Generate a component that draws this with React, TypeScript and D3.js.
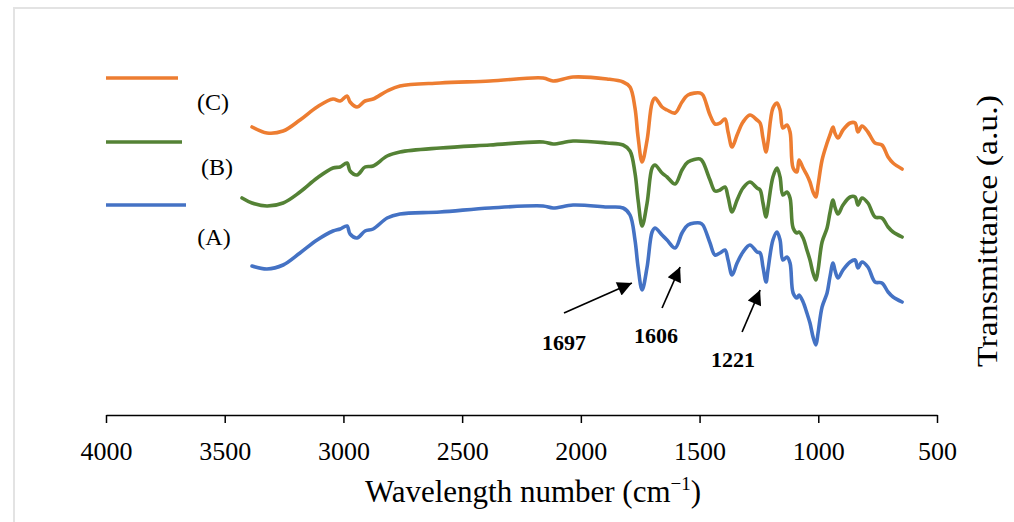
import React, { useEffect, useRef } from "react";
import * as d3 from "d3";

// wavenumbers (cm-1) shared by the three spectra
const wavenumbers = [
  3427, 3385, 3322, 3254, 3183, 3111, 3044, 3014, 2985, 2972, 2943, 2909, 2875,
  2816, 2762, 2593, 2383, 2159, 2117, 2033, 1890, 1822, 1793, 1772, 1759, 1742,
  1721, 1700, 1688, 1658, 1637, 1603, 1574, 1549, 1498, 1486, 1456, 1435, 1414,
  1393, 1380, 1363, 1342, 1317, 1288, 1258, 1245, 1233, 1220, 1212, 1191, 1174,
  1161, 1149, 1132, 1119, 1106, 1090, 1081, 1064, 1048, 1035, 1022, 1010, 1001,
  984, 963, 951, 938, 930, 917, 896, 866, 845, 833, 816, 791, 761, 732, 706, 685,
  647,
];

// transmittance (a.u., stacked)
const seriesA = [
  null, 149, 146, 150, 162, 175, 184, 186, 189, 181, 177, 184, 186, 197, 201,
  203, 207, 209, 207, 210, 208, 207, 200, 175, 148, 125, 148, 183, 187, 180, 175,
  167, 182, 190, 192, 190, 172, 160, 162, 165, 155, 140, 152, 163, 170, 163, 162,
  148, 133, 145, 175, 183, 175, 155, 158, 152, 122, 117, 120, 113, 102, 92, 78,
  70, 82, 108, 122, 138, 152, 145, 137, 145, 153, 155, 147, 153, 148, 133, 132,
  123, 118, 113,
];
const seriesB = [
  217, 212, 209, 212, 223, 237, 247, 248, 252, 244, 240, 248, 249, 259, 263, 267,
  270, 273, 271, 274, 272, 270, 264, 242, 215, 189, 212, 247, 250, 242, 238, 231,
  245, 253, 256, 253, 235, 224, 225, 228, 218, 203, 215, 227, 233, 227, 225, 212,
  198, 208, 238, 247, 238, 220, 223, 217, 187, 182, 183, 177, 165, 155, 142, 135,
  145, 173, 187, 202, 215, 208, 201, 210, 218, 218, 210, 217, 212, 198, 197, 188,
  183, 178,
];
const seriesC = [
  null, 288, 282, 284, 295, 308, 316, 314, 319, 313, 308, 314, 316, 324, 329,
  332, 334, 337, 334, 338, 336, 333, 328, 307, 278, 253, 275, 312, 317, 308, 305,
  302, 313, 320, 322, 320, 300, 291, 292, 296, 283, 268, 280, 293, 300, 295, 292,
  277, 263, 273, 307, 312, 305, 287, 290, 283, 247, 243, 255, 247, 240, 233, 223,
  218, 230, 255, 272, 280, 288, 282, 277, 285, 292, 292, 283, 289, 283, 272, 270,
  258, 252, 246,
];

const seriesNames = ["(A)", "(B)", "(C)"];
const seriesColors = ["#4472C4", "#548235", "#ED7D31"];
const xTicks = [4000, 3500, 3000, 2500, 2000, 1500, 1000, 500];

// peak annotations: arrow tip / tail and label anchor in data units
const peakLabels = ["1697", "1606", "1221"];
const tipW = [1785, 1582, 1245];
const tipV = [132, 148, 125];
const tailW = [2071, 1658, 1321];
const tailV = [102, 107, 83];
const labelW = [2071, 1683, 1359];
const labelV = [65, 72, 48];

export default function App() {
  const svgRef = useRef<SVGSVGElement | null>(null);

  useEffect(() => {
    document.body.style.margin = "0";
    if (!svgRef.current) return;
    const svg = d3.select(svgRef.current);
    svg.selectAll("*").remove();

    const W = 1014;
    const H = 522;
    const font = "Liberation Serif, Times New Roman, serif";

    // frame
    svg
      .append("rect")
      .attr("x", 14)
      .attr("y", 8)
      .attr("width", W)
      .attr("height", H)
      .attr("fill", "#fff")
      .attr("stroke", "#e3e3e3")
      .attr("stroke-width", 2);

    const x = d3.scaleLinear().domain([4000, 500]).range([106, 937]);
    const y = d3.scaleLinear().domain([0, 400]).range([415, 15]);

    const defs = svg.append("defs");
    defs
      .append("marker")
      .attr("id", "arrowhead")
      .attr("viewBox", "0 0 10 10")
      .attr("refX", 10)
      .attr("refY", 5)
      .attr("markerWidth", 10)
      .attr("markerHeight", 8.5)
      .attr("markerUnits", "strokeWidth")
      .attr("orient", "auto")
      .append("path")
      .attr("d", "M0,0 L10,5 L0,10 Z")
      .attr("fill", "#000");

    // x axis
    const xAxis = d3
      .axisBottom(x)
      .tickValues(xTicks)
      .tickSize(8)
      .tickSizeOuter(0)
      .tickPadding(19)
      .tickFormat(d3.format("d"));
    const ax = svg
      .append("g")
      .attr("transform", `translate(0,${y(0)})`)
      .call(xAxis)
      .attr("font-family", font)
      .attr("font-size", 26);
    ax.select(".domain").attr("stroke", "#000").attr("stroke-width", 1.5);
    ax.selectAll(".tick line").attr("stroke", "#000").attr("stroke-width", 1.5);
    ax.selectAll(".tick text").attr("fill", "#000");

    const xTitle = svg
      .append("text")
      .attr("x", 533)
      .attr("y", 502)
      .attr("text-anchor", "middle")
      .attr("font-family", font)
      .attr("font-size", 31)
      .attr("fill", "#000");
    xTitle.append("tspan").text("Wavelength number (cm");
    xTitle
      .append("tspan")
      .attr("dy", -12)
      .attr("font-size", 19)
      .text("\u22121");
    xTitle.append("tspan").attr("dy", 12).text(")");

    svg
      .append("text")
      .attr("transform", "translate(997,231) rotate(-90)")
      .attr("text-anchor", "middle")
      .attr("font-family", font)
      .attr("font-size", 29)
      .attr("textLength", 272)
      .attr("lengthAdjust", "spacingAndGlyphs")
      .attr("fill", "#000")
      .text("Transmittance (a.u.)");

    // spectra
    const allSeries = [seriesA, seriesB, seriesC];
    const line = d3
      .line<[number, number | null]>()
      .defined((d) => d[1] != null)
      .x((d) => x(d[0]))
      .y((d) => y(d[1] as number))
      .curve(d3.curveCatmullRom);

    allSeries.forEach((vals, i) => {
      const data = wavenumbers.map((w, j) => [w, vals[j]] as [number, number | null]);
      svg
        .append("path")
        .datum(data)
        .attr("fill", "none")
        .attr("stroke", seriesColors[i])
        .attr("stroke-width", 3.6)
        .attr("stroke-linejoin", "round")
        .attr("stroke-linecap", "round")
        .attr("d", line);
    });

    // legend keys
    const legendY = [205, 142, 78];
    const legendEnd = [186, 182, 178];
    const labelY = [245, 175, 110];
    const labelX = [214, 217, 213];
    seriesNames.forEach((name, i) => {
      svg
        .append("line")
        .attr("x1", 106)
        .attr("x2", legendEnd[i])
        .attr("y1", legendY[i])
        .attr("y2", legendY[i])
        .attr("stroke", seriesColors[i])
        .attr("stroke-width", 3.6);
      svg
        .append("text")
        .attr("x", labelX[i])
        .attr("y", labelY[i])
        .attr("text-anchor", "middle")
        .attr("font-family", font)
        .attr("font-size", 24)
        .attr("fill", "#000")
        .text(name);
    });

    // annotations
    peakLabels.forEach((lab, i) => {
      svg
        .append("line")
        .attr("x1", x(tailW[i]))
        .attr("y1", y(tailV[i]))
        .attr("x2", x(tipW[i]))
        .attr("y2", y(tipV[i]))
        .attr("stroke", "#000")
        .attr("stroke-width", 1.7)
        .attr("marker-end", "url(#arrowhead)");
      svg
        .append("text")
        .attr("x", x(labelW[i]))
        .attr("y", y(labelV[i]))
        .attr("text-anchor", "middle")
        .attr("font-family", font)
        .attr("font-size", 22)
        .attr("font-weight", "bold")
        .attr("fill", "#000")
        .text(lab);
    });
  }, []);

  return <svg ref={svgRef} width={1014} height={522} style={{ display: "block" }} />;
}
